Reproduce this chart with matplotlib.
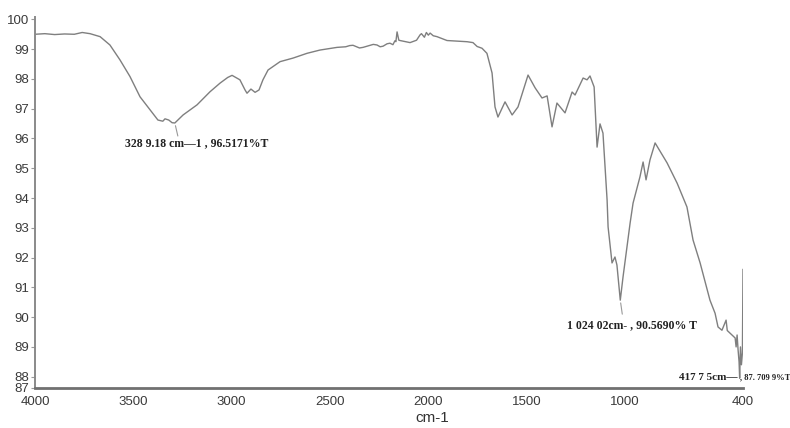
import matplotlib
matplotlib.use("Agg")
import matplotlib.pyplot as plt

# FTIR spectrum (wavenumber cm-1, %T)
wavenumber = [4000, 3950, 3900, 3850, 3800, 3760, 3720, 3695, 3669, 3619,
              3568, 3517, 3466, 3415, 3375, 3350, 3339, 3320, 3303, 3289,
              3247, 3176, 3110, 3059, 3020, 2998, 2958, 2932, 2922, 2902,
              2881, 2861, 2841, 2815, 2754, 2688, 2617, 2551, 2464, 2420,
              2400, 2383, 2350, 2332, 2300, 2280, 2261, 2245, 2230, 2210,
              2195, 2180, 2170, 2165, 2159, 2150, 2144, 2093, 2060, 2042,
              2035, 2020, 2010, 2000, 1991, 1975, 1956, 1905, 1850, 1803,
              1773, 1752, 1727, 1702, 1676, 1661, 1646, 1610, 1574, 1544,
              1493, 1457, 1422, 1396, 1371, 1346, 1305, 1269, 1254, 1213,
              1193, 1178, 1157, 1142, 1127, 1112, 1091, 1086, 1066, 1051,
              1041, 1024, 1010, 974, 959, 924, 908, 893, 873, 847,
              786, 735, 685, 654, 618, 568, 542, 527, 507, 486,
              480, 440, 435, 430, 425, 420, 417, 413, 408, 403,
              400]
transmittance = [99.50, 99.52, 99.49, 99.51, 99.50, 99.56, 99.52, 99.47, 99.42, 99.14,
                 98.64, 98.08, 97.40, 96.96, 96.62, 96.58, 96.66, 96.62, 96.53, 96.52,
                 96.79, 97.13, 97.57, 97.86, 98.05, 98.12, 97.97, 97.63, 97.52, 97.66,
                 97.55, 97.63, 97.97, 98.30, 98.58, 98.70, 98.86, 98.97, 99.06, 99.08,
                 99.12, 99.13, 99.04, 99.06, 99.12, 99.16, 99.14, 99.08, 99.10, 99.18,
                 99.20, 99.15, 99.28, 99.25, 99.58, 99.30, 99.29, 99.22, 99.30, 99.48,
                 99.52, 99.40, 99.56, 99.47, 99.54, 99.45, 99.42, 99.29, 99.27, 99.25,
                 99.22, 99.09, 99.03, 98.86, 98.20, 97.06, 96.72, 97.23, 96.79, 97.06,
                 98.13, 97.70, 97.36, 97.43, 96.39, 97.19, 96.86, 97.56, 97.46, 98.03,
                 97.97, 98.10, 97.73, 95.71, 96.49, 96.18, 93.93, 93.03, 91.82, 92.02,
                 91.75, 90.57, 91.35, 93.16, 93.83, 94.71, 95.21, 94.61, 95.28, 95.85,
                 95.18, 94.50, 93.70, 92.59, 91.82, 90.57, 90.13, 89.67, 89.56, 89.90,
                 89.55, 89.30, 89.00, 89.40, 88.90, 88.50, 87.95, 89.00, 88.40, 88.80,
                 91.60]

x_ticks = [4000, 3500, 3000, 2500, 2000, 1500, 1000, 400]
y_ticks = [87.62, 88, 89, 90, 91, 92, 93, 94, 95, 96, 97, 98, 99, 100]
y_labels = ["87"] + [str(v) for v in range(88, 101)]

peaks = [(3289, 96.52, "328 9.18 cm\u20141 , 96.5171%T"),
         (1024, 90.57, "1 024 02cm- , 90.5690% T")]

fig = plt.figure(figsize=(7.9, 4.28), dpi=100)
ax = fig.add_axes([35 / 790, 1 - 388 / 428, 708 / 790, 371 / 428])

ax.plot(wavenumber, transmittance, color="#7f7f7f", lw=1.0)
ax.set_xlim(4000, 400)
ax.set_ylim(87.62, 100.08)

ax.set_xticks(x_ticks)
ax.set_xticklabels([str(v) for v in x_ticks])
ax.set_yticks(y_ticks)
ax.set_yticklabels(y_labels)
for lab in ax.get_xticklabels() + ax.get_yticklabels():
    lab.set_fontfamily("Liberation Sans")
    lab.set_fontsize(9.5)
    lab.set_color("#3a3a3a")
ax.tick_params(axis="x", length=0, pad=6)
ax.tick_params(axis="y", length=3, width=0.8, color="#999999", pad=1)

for s in ["top", "right"]:
    ax.spines[s].set_visible(False)
ax.spines["left"].set_color("#8a8a8a")
ax.spines["left"].set_linewidth(1.4)
ax.spines["bottom"].set_color("#707070")
ax.spines["bottom"].set_linewidth(2)

fig.text(432 / 790, 1 - 418 / 428, "cm-1", ha="center", va="center",
         fontfamily="Liberation Sans", fontsize=11, color="#333333")

afont = dict(fontfamily="Liberation Serif", fontweight="bold", fontsize=8.5, color="#222222")
offsets = [((-50, -14), (3, -13)), ((-53, -19), (2, -14))]
for (wn, t, txt), (toff, loff) in zip(peaks, offsets):
    ax.annotate("", xy=(wn, t), xytext=loff, textcoords="offset pixels",
                arrowprops=dict(arrowstyle="-", color="#999999", lw=0.8,
                                shrinkA=0, shrinkB=2))
    ax.annotate(txt, xy=(wn, t), xytext=toff, textcoords="offset pixels",
                ha="left", va="top", **afont)

ax.annotate("417 7 5cm\u2014", xy=(417, 87.95), xytext=(-2, 1), textcoords="offset pixels",
            ha="right", va="center", annotation_clip=False, **dict(afont, fontsize=8))
ax.annotate(", 87. 709 9%T", xy=(417, 87.95), xytext=(0, 1), textcoords="offset pixels",
            ha="left", va="center", annotation_clip=False,
            **dict(afont, fontsize=6.1))

fig.savefig("out.png", dpi=100)
